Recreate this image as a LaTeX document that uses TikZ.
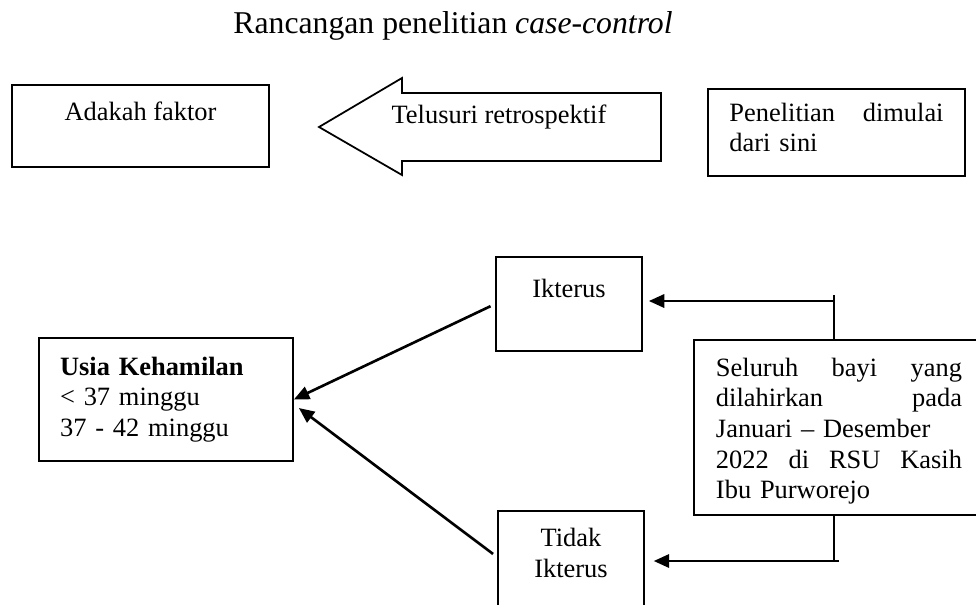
\documentclass[tikz,border=0pt]{standalone}
\usepackage{fontspec}
\setmainfont{Liberation Serif}
\usetikzlibrary{
  positioning,
  arrows.meta
}

\newcommand{\spreadline}[1]{\leavevmode\hbox to\hsize{#1}}

\begin{document}
\begin{tikzpicture}[
  x=0.454pt, y=-0.454pt,
  font=\fontsize{12}{13.9}\selectfont,
  box/.style={
    rectangle,
    draw=black,
    line width=0.8pt,
    inner sep=0pt,
    align=center
  },
  link/.style={
    line width=1.2pt,
    draw=black
  },
  arrow/.style={
    -{Triangle[length=7pt,width=6pt]},
    line width=1.2pt,
    draw=black
  }
]
\useasboundingbox (0,0) rectangle (976,604);

% Title
\node[anchor=base, font=\fontsize{14.4}{16}\selectfont] (title) at (453,33) {Rancangan penelitian \textit{case-control}};

% Top row
\node[box, minimum width=116.7pt, minimum height=37.2pt] (adakah) at (140.5,126) {Adakah faktor\\\mbox{}};
\draw[line width=0.8pt] (319,127) -- (402,78) -- (402,93) -- (661,93) -- (661,161) -- (402,161) -- (402,175) -- cycle;
\node (telusuri) at (499,117) {Telusuri retrospektif};
\node[box, text width=97.2pt, minimum width=116.7pt, minimum height=39.5pt, align=left] (mulai) at (836.5,132.5) {\spreadline{Penelitian\hfill dimulai}\\dari sini\par\vspace{4.6pt}\hrule height0pt width0pt};

% Groups
\node[box, minimum width=66.3pt, minimum height=42.7pt] (ikterus) at (569,304) {Ikterus\\\mbox{}};
\node[box, minimum width=66.3pt, minimum height=51.8pt] (tidak) at (571,568) {Tidak\\Ikterus\\\mbox{}};
\node[box, text width=96.2pt, minimum width=115.3pt, minimum height=55.8pt, align=left] (usia) at (166,399.5) {\textbf{Usia Kehamilan}\\< 37 minggu\\37 - 42 minggu};
\node[box, text width=111.7pt, minimum width=131.7pt, minimum height=79.5pt, align=left] (seluruh) at (839,427.5) {\hrule height0pt width0pt\vspace{3.2pt}\spreadline{Seluruh\hfill bayi\hfill yang}\\\spreadline{dilahirkan\hfill pada}\\Januari -- Desember\\\spreadline{2022\hfill di\hfill RSU\hfill Kasih}\\Ibu Purworejo};

% Connectors
\coordinate (jt) at (834,301);
\coordinate (jb) at (834,561);
\draw[link] (seluruh.north -| jt) -- ([yshift=2.7pt]jt);
\draw[arrow, shorten >=2.7pt] (jt) -- (jt -| ikterus.east);
\draw[link] (seluruh.south -| jb) -- (jb);
\draw[arrow, shorten >=4pt] ([xshift=2.3pt]jb) -- (jb -| tidak.east);
\draw[arrow, shorten <=2.3pt] (ikterus.west) -- (usia.east);
\draw[arrow, shorten <=2.3pt] ([yshift=5pt]tidak.west) -- ([shift={(5,8.5)}]usia.east);

\end{tikzpicture}
\end{document}
